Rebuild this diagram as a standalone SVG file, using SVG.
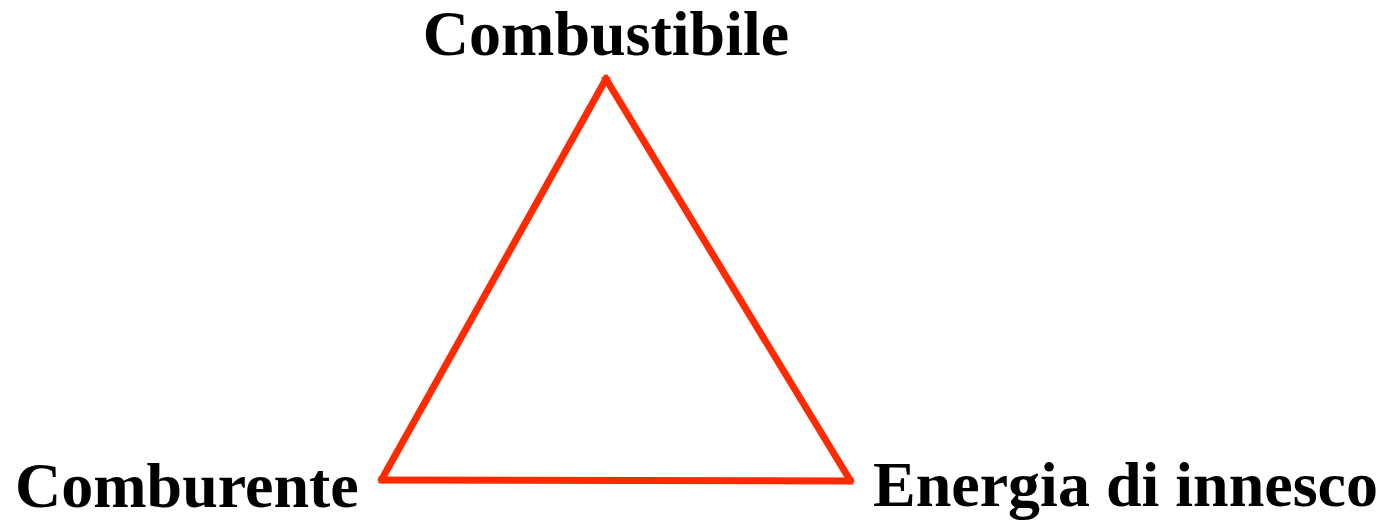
<svg xmlns="http://www.w3.org/2000/svg" width="1390" height="521" viewBox="0 0 1390 521">
<style>
.lbl{font-family:"Liberation Serif","Times New Roman",serif;font-weight:bold;font-size:64px;fill:#000}
.edge{stroke:#ff2a00;stroke-width:7;stroke-linecap:square;fill:none}
</style>
<rect width="1390" height="521" fill="#fff"/>
<g id="connectors">
<line class="edge" x1="606" y1="79" x2="382" y2="479"/>
<line class="edge" x1="606" y1="79" x2="850" y2="480"/>
<line class="edge" x1="382" y1="480" x2="850" y2="481"/>
</g>
<g id="node-combustibile"><text class="lbl" x="606" y="55" text-anchor="middle">Combustibile</text></g>
<g id="node-comburente"><text class="lbl" x="15" y="507">Comburente</text></g>
<g id="node-energia"><text class="lbl" x="873" y="506">Energia di innesco</text></g>
</svg>
